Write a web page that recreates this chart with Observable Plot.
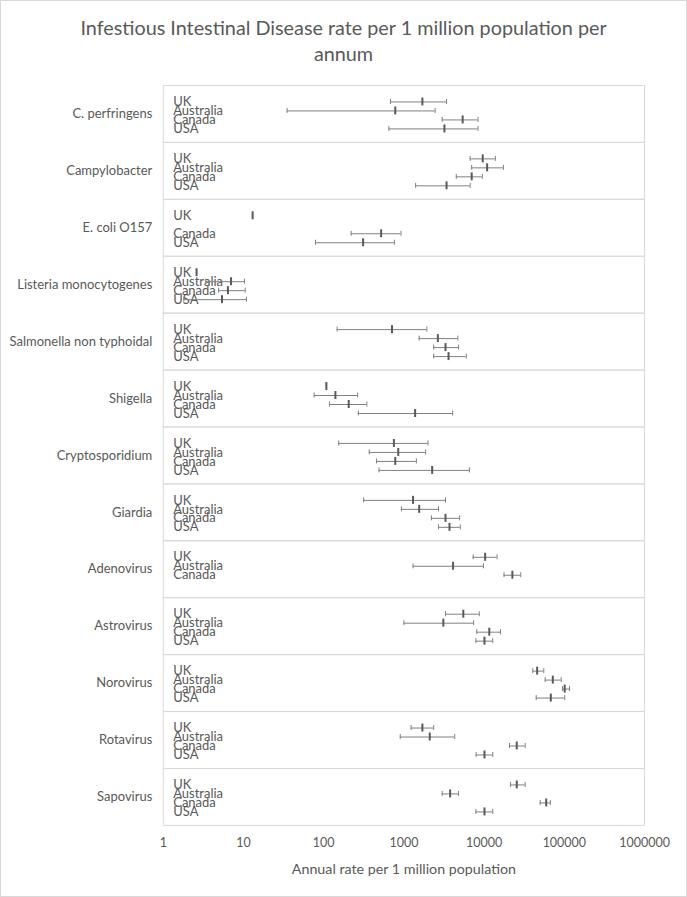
<!DOCTYPE html>
<html><head><meta charset="utf-8">
<script src="https://cdn.jsdelivr.net/npm/d3@7"></script>
<script src="https://cdn.jsdelivr.net/npm/@observablehq/plot@0.6"></script>
<style>
body{margin:0;background:#fff;}
#chart{position:relative;width:687px;height:897px;box-sizing:border-box;border:1px solid #d9d9d9;background:#fff;font-family:Lato,sans-serif;overflow:hidden;}
#title{position:absolute;left:0;top:0;width:685px;text-align:center;color:#595959;font-size:19.8px;line-height:26px;padding-top:13px;}
#plot{position:absolute;left:-1px;top:69px;}
#plot svg [aria-label="x-axis label"] text{font-size:14.3px;}
#plot svg [aria-label="fy-axis tick label"] text{font-size:13px;}
</style>
</head><body>
<div id="chart">
  <div id="title">Infestious Intestinal Disease rate per 1 million population per<br>annum</div>
  <div id="plot"></div>
</div>
<script>
const diseases = ["C. perfringens","Campylobacter","E. coli O157","Listeria monocytogenes","Salmonella non typhoidal","Shigella","Cryptosporidium","Giardia","Adenovirus","Astrovirus","Norovirus","Rotavirus","Sapovirus"];
const countries = ["UK","Australia","Canada","USA"];
const tickValues = [1,10,100,1000,10000,100000,1000000];
const xLabel = "Annual rate per 1 million population";

const rowDisease = [
  "C. perfringens","C. perfringens","C. perfringens","C. perfringens",
  "Campylobacter","Campylobacter","Campylobacter","Campylobacter",
  "E. coli O157","E. coli O157","E. coli O157",
  "Listeria monocytogenes","Listeria monocytogenes","Listeria monocytogenes","Listeria monocytogenes",
  "Salmonella non typhoidal","Salmonella non typhoidal","Salmonella non typhoidal","Salmonella non typhoidal",
  "Shigella","Shigella","Shigella","Shigella",
  "Cryptosporidium","Cryptosporidium","Cryptosporidium","Cryptosporidium",
  "Giardia","Giardia","Giardia","Giardia",
  "Adenovirus","Adenovirus","Adenovirus",
  "Astrovirus","Astrovirus","Astrovirus","Astrovirus",
  "Norovirus","Norovirus","Norovirus","Norovirus",
  "Rotavirus","Rotavirus","Rotavirus","Rotavirus",
  "Sapovirus","Sapovirus","Sapovirus","Sapovirus"
];
const rowCountry = [
  "UK","Australia","Canada","USA",
  "UK","Australia","Canada","USA",
  "UK","Canada","USA",
  "UK","Australia","Canada","USA",
  "UK","Australia","Canada","USA",
  "UK","Australia","Canada","USA",
  "UK","Australia","Canada","USA",
  "UK","Australia","Canada","USA",
  "UK","Australia","Canada",
  "UK","Australia","Canada","USA",
  "UK","Australia","Canada","USA",
  "UK","Australia","Canada","USA",
  "UK","Australia","Canada","USA"
];
const lowValues = [
  680, 35, 3000, 650,
  6700, 7000, 4500, 1400,
  13, 220, 79,
  2.6, 3.4, 4.9, 1.8,
  147, 1550, 2350, 2350,
  108, 76, 118, 270,
  154, 370, 455, 490,
  315, 930, 2200, 2700,
  7300, 1300, 17700,
  3300, 1000, 8100, 7900,
  40400, 57700, 95000, 44600,
  1230, 900, 20700, 7950,
  21300, 3000, 50000, 7900
];
const medianValues = [
  1700, 780, 5400, 3200,
  9600, 10900, 7000, 3400,
  13, 520, 310,
  2.6, 7.0, 6.4, 5.4,
  710, 2650, 3300, 3600,
  108, 140, 205, 1380,
  750, 850, 780, 2250,
  1300, 1550, 3300, 3700,
  10300, 4100, 22500,
  5500, 3100, 11600, 10100,
  45800, 71800, 101000, 67800,
  1700, 2100, 25500, 10100,
  25500, 3770, 59400, 10100
];
const highValues = [
  3400, 2450, 8400, 8400,
  13800, 17400, 9500, 6700,
  13, 920, 760,
  2.6, 10.3, 10.5, 10.9,
  1930, 4700, 4800, 6000,
  108, 265, 345, 4050,
  2000, 1870, 1430, 6550,
  3300, 2700, 4950, 5050,
  14500, 9800, 28600,
  8700, 7400, 16000, 12800,
  55400, 91400, 116000, 101000,
  2350, 4300, 32500, 12800,
  32500, 4800, 67000, 12800
];

const rows = rowDisease.map((d, i) => ({
  disease: d, country: rowCountry[i], lo: lowValues[i], med: medianValues[i], hi: highValues[i]
}));

const barColor = "#7f7f7f";
const plot = Plot.plot({
  width: 687,
  height: 820,
  marginLeft: 163,
  marginRight: 42,
  marginTop: 12,
  marginBottom: 62,
  style: {fontFamily: "Lato, sans-serif", fontSize: "12.5px", color: "#595959", background: "white", overflow: "visible"},
  x: {type: "log", domain: [1, 1e6], ticks: tickValues, tickFormat: d => String(d), tickSize: 0, tickPadding: 13,
      label: xLabel, labelAnchor: "center", labelOffset: 49, labelArrow: "none"},
  y: {domain: countries, axis: null, padding: 0, insetTop: 10, insetBottom: 8},
  fy: {domain: diseases, padding: 0, label: null, tickSize: 0, tickPadding: 11, axis: "left"},
  marks: [
    Plot.frame({stroke: "#d9d9d9"}),
    Plot.text(rows, {fy: "disease", y: "country", text: "country", frameAnchor: "left", dx: 10, textAnchor: "start", fill: "#595959", fontSize: 13}),
    Plot.ruleY(rows, {fy: "disease", y: "country", x1: "lo", x2: "hi", stroke: barColor, strokeWidth: 1}),
    Plot.tickX(rows, {fy: "disease", y: "country", x: "lo", stroke: barColor, strokeWidth: 1, insetTop: 2, insetBottom: 2}),
    Plot.tickX(rows, {fy: "disease", y: "country", x: "hi", stroke: barColor, strokeWidth: 1, insetTop: 2, insetBottom: 2}),
    Plot.tickX(rows, {fy: "disease", y: "country", x: "med", stroke: "#595959", strokeWidth: 2, insetTop: 0.5, insetBottom: 0.5})
  ]
});
document.getElementById("plot").appendChild(plot);
</script>
</body></html>
